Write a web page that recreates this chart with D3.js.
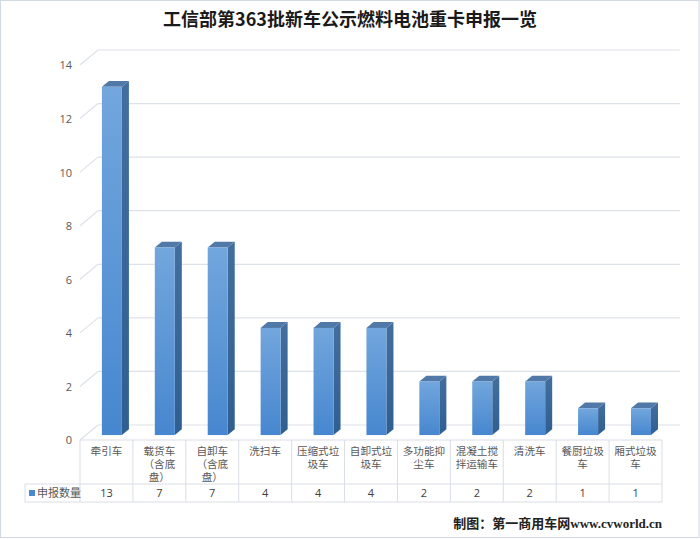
<!DOCTYPE html>
<html>
<head>
<meta charset="utf-8">
<script src="https://cdn.jsdelivr.net/npm/d3@7"></script>
<style>
  html, body { margin: 0; padding: 0; background: #fff; }
  svg { display: block; }
</style>
</head>
<body>
<svg id="chart" width="700" height="539"></svg>
<script>
const title = "工信部第363批新车公示燃料电池重卡申报一览";
const categories = ["牵引车", "载货车（含底盘）", "自卸车（含底盘）", "洗扫车", "压缩式垃圾车", "自卸式垃圾车", "多功能抑尘车", "混凝土搅拌运输车", "清洗车", "餐厨垃圾车", "厢式垃圾车"];
const categoryLines = [
  ["牵引车"],
  ["载货车", "（含底", "盘）"],
  ["自卸车", "（含底", "盘）"],
  ["洗扫车"],
  ["压缩式垃", "圾车"],
  ["自卸式垃", "圾车"],
  ["多功能抑", "尘车"],
  ["混凝土搅", "拌运输车"],
  ["清洗车"],
  ["餐厨垃圾", "车"],
  ["厢式垃圾", "车"]
];
const seriesName = "申报数量";
const values = [13, 7, 7, 4, 4, 4, 2, 2, 2, 1, 1];
const yTicks = [0, 2, 4, 6, 8, 10, 12, 14];
const footer = "制图：第一商用车网www.cvworld.cn";

const svg = d3.select("#chart");
const W = 700, H = 539;

// frame
svg.append("rect").attr("x", 0.5).attr("y", 0.5).attr("width", W - 1.5).attr("height", H - 2)
  .attr("fill", "#fff").attr("stroke", "#d3d9e4");

// geometry
const left = 80, right = 662, floorY = 440;
const depth = [18, -15];
const t0 = 0.33, t1 = 0.72;

const x = d3.scaleBand().domain(categories).range([left, right]).paddingInner(0).paddingOuter(0);
const y = d3.scaleLinear().domain([0, 14]).range([floorY, 65]);

const gridColor = "#dde1ea";
const grid = svg.append("g");
yTicks.forEach(v => {
  const yy = y(v);
  grid.append("line").attr("x1", left).attr("y1", yy).attr("x2", left + depth[0]).attr("y2", yy + depth[1])
    .attr("stroke", gridColor).attr("stroke-width", 1.2);
  grid.append("line").attr("x1", left + depth[0]).attr("y1", yy + depth[1]).attr("x2", 680).attr("y2", yy + depth[1])
    .attr("stroke", gridColor).attr("stroke-width", 1.2);
});

// axis labels
const yAxis = d3.axisLeft(y).tickValues(yTicks).tickSize(0).tickPadding(0);
const ga = svg.append("g").attr("transform", `translate(${72},0)`).call(yAxis);
ga.select(".domain").remove();
ga.selectAll("text").attr("font-family", "'Open Sans', 'Noto Sans', sans-serif").attr("font-size", 11)
  .attr("fill", "#595959").attr("dy", "0.35em");

// gradients
const defs = svg.append("defs");
const gFront = defs.append("linearGradient").attr("id", "gFront").attr("x1", 0).attr("y1", 0).attr("x2", 0).attr("y2", 1);
gFront.append("stop").attr("offset", "0%").attr("stop-color", "#72a6dd");
gFront.append("stop").attr("offset", "100%").attr("stop-color", "#4787cf");
const gSide = defs.append("linearGradient").attr("id", "gSide").attr("x1", 0).attr("y1", 0).attr("x2", 0).attr("y2", 1);
gSide.append("stop").attr("offset", "0%").attr("stop-color", "#436f9e");
gSide.append("stop").attr("offset", "100%").attr("stop-color", "#2f5e90");

// bars
const barW = 20;
const bars = svg.append("g");
categories.forEach((c, i) => {
  const v = values[i];
  const cx = x(c) + x.bandwidth() / 2 - 0.5;
  const fx0 = cx - barW / 2 + depth[0] * t0;
  const fx1 = fx0 + barW;
  const fyTop = y(v) + depth[1] * t0;
  const fyBot = y(0) + depth[1] * t0;
  const dx = depth[0] * (t1 - t0), dy = depth[1] * (t1 - t0);
  bars.append("path")
    .attr("d", `M${fx1},${fyTop}L${fx1 + dx},${fyTop + dy}L${fx1 + dx},${fyBot + dy}L${fx1},${fyBot}Z`)
    .attr("fill", "url(#gSide)");
  bars.append("path")
    .attr("d", `M${fx0},${fyTop}L${fx1},${fyTop}L${fx1 + dx},${fyTop + dy}L${fx0 + dx},${fyTop + dy}Z`)
    .attr("fill", "#5079a8");
  bars.append("rect").attr("x", fx0).attr("y", fyTop).attr("width", barW).attr("height", fyBot - fyTop)
    .attr("fill", "url(#gFront)");
});

// data table
const tblColor = "#d9dde6";
const tbl = svg.append("g");
const rowMid = 484, rowBot = 502, legLeft = 25;
tbl.append("line").attr("x1", left).attr("x2", right).attr("y1", floorY).attr("y2", floorY).attr("stroke", tblColor);
tbl.append("line").attr("x1", legLeft).attr("x2", right).attr("y1", rowMid).attr("y2", rowMid).attr("stroke", tblColor);
tbl.append("line").attr("x1", legLeft).attr("x2", right).attr("y1", rowBot).attr("y2", rowBot).attr("stroke", tblColor);
tbl.append("line").attr("x1", legLeft).attr("x2", legLeft).attr("y1", rowMid).attr("y2", rowBot).attr("stroke", tblColor);
categories.forEach((c, i) => {
  tbl.append("line").attr("x1", x(c)).attr("x2", x(c)).attr("y1", floorY).attr("y2", rowBot).attr("stroke", tblColor);
});
tbl.append("line").attr("x1", right).attr("x2", right).attr("y1", floorY).attr("y2", rowBot).attr("stroke", tblColor);

const fontCJK = "'Noto Sans CJK SC', 'Noto Sans', sans-serif";
categories.forEach((c, i) => {
  const cx = x(c) + x.bandwidth() / 2;
  const t = tbl.append("text").attr("x", cx).attr("y", 451.5)
    .attr("text-anchor", "middle").attr("font-family", fontCJK).attr("font-size", 10.6)
    .attr("fill", "#595959");
  categoryLines[i].forEach((ln, j) => {
    t.append("tspan").attr("x", cx).attr("y", 451.5 + j * 12.8).attr("dy", "0.35em").text(ln);
  });
  tbl.append("text").attr("x", cx).attr("y", 493).attr("dy", "0.35em")
    .attr("text-anchor", "middle").attr("font-family", "'Open Sans', 'Noto Sans', sans-serif").attr("font-size", 11)
    .attr("fill", "#404040").text(values[i]);
});
// legend key
tbl.append("rect").attr("x", 29).attr("y", 490).attr("width", 6).attr("height", 6).attr("fill", "#4a88cf");
tbl.append("text").attr("x", 37).attr("y", 493).attr("dy", "0.35em")
  .attr("font-family", fontCJK).attr("font-size", 11).attr("fill", "#595959").text(seriesName);

// title
svg.append("text").attr("x", 350).attr("y", 20).attr("dy", "0.35em").attr("text-anchor", "middle")
  .attr("font-family", fontCJK).attr("font-size", 18).attr("font-weight", "bold").attr("fill", "#1a1a1a")
  .text(title);

// footer
svg.append("text").attr("x", 662).attr("y", 523).attr("dy", "0.35em").attr("text-anchor", "end")
  .attr("font-family", "'Liberation Serif', 'Noto Sans CJK SC', serif").attr("font-size", 13).attr("font-weight", "bold")
  .attr("fill", "#222").text(footer);
</script>
</body>
</html>
